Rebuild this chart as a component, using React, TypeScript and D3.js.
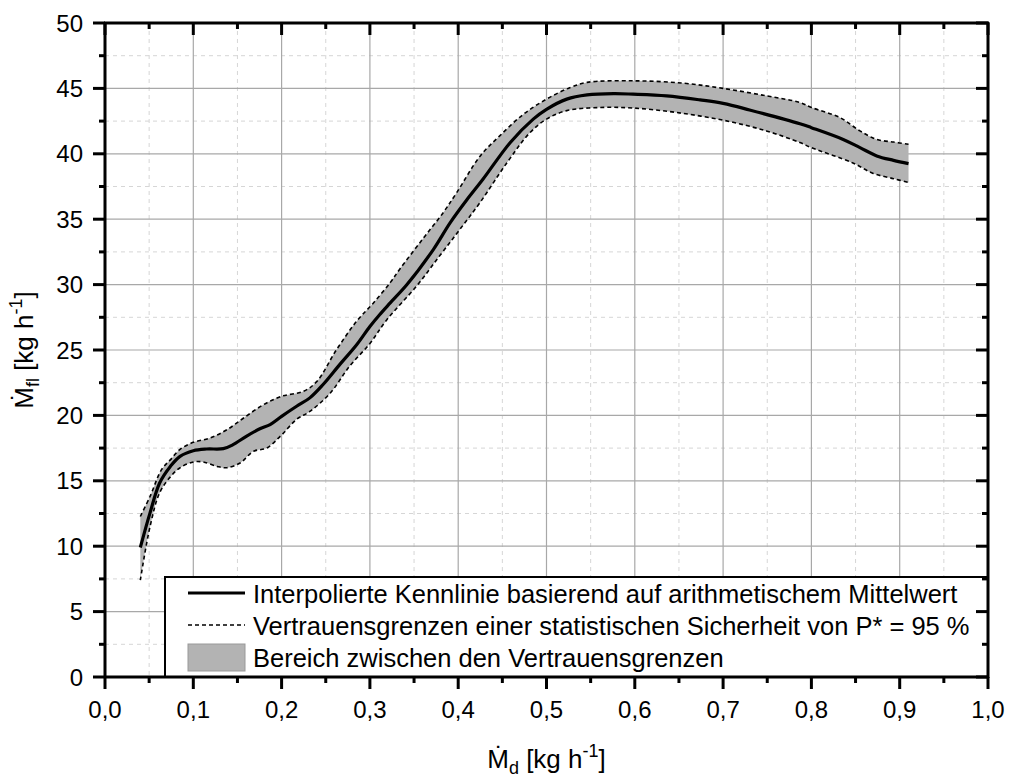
import React from "react";
import * as d3 from "d3";

const meanX = [0.04,0.051,0.062,0.074,0.085,0.1,0.115,0.134,0.145,0.16,0.176,0.187,0.2,0.217,0.232,0.247,0.266,0.285,0.3,0.311,0.323,0.342,0.372,0.391,0.41,0.428,0.459,0.485,0.5,0.523,0.546,0.576,0.598,0.636,0.674,0.7,0.73,0.787,0.8,0.836,0.855,0.874,0.893,0.91];
const meanY = [9.9,12.55,14.85,16.1,16.87,17.3,17.43,17.46,17.76,18.4,19.0,19.3,19.93,20.7,21.34,22.36,23.9,25.4,26.8,27.7,28.6,30.0,32.7,34.74,36.5,38.05,40.87,42.65,43.4,44.18,44.5,44.6,44.56,44.43,44.12,43.85,43.35,42.3,42.0,41.1,40.47,39.84,39.5,39.25];

const upperX = [0.04,0.051,0.064,0.074,0.085,0.1,0.119,0.138,0.157,0.179,0.2,0.225,0.24,0.262,0.285,0.304,0.323,0.334,0.36,0.383,0.398,0.425,0.447,0.474,0.5,0.527,0.546,0.598,0.655,0.7,0.749,0.787,0.8,0.832,0.855,0.874,0.893,0.91];
const upperY = [12.27,13.8,15.85,16.6,17.4,17.94,18.27,18.9,19.8,20.8,21.46,21.85,22.6,25.0,27.2,28.6,30.15,31.2,33.5,35.5,37.0,39.84,41.37,43.03,44.18,45.07,45.46,45.58,45.4,45.0,44.43,43.92,43.54,42.78,41.75,41.1,40.9,40.73];

const lowerX = [0.04,0.051,0.062,0.074,0.085,0.1,0.111,0.127,0.138,0.153,0.168,0.183,0.2,0.217,0.232,0.255,0.277,0.3,0.319,0.353,0.379,0.402,0.425,0.455,0.481,0.5,0.523,0.56,0.598,0.647,0.7,0.749,0.787,0.8,0.847,0.87,0.893,0.91];
const lowerY = [7.4,11.5,14.1,15.3,16.0,16.44,16.44,16.1,16.0,16.36,17.25,17.5,18.5,19.7,20.3,21.7,23.76,25.5,27.3,29.9,32.2,34.23,36.3,39.3,41.6,42.65,43.3,43.54,43.5,43.16,42.57,41.75,40.86,40.47,39.3,38.5,38.1,37.8];

const xTicks = [0,0.1,0.2,0.3,0.4,0.5,0.6,0.7,0.8,0.9,1.0];
const xMinor = [0.05,0.15,0.25,0.35,0.45,0.55,0.65,0.75,0.85,0.95];
const yTicks = [0,5,10,15,20,25,30,35,40,45,50];
const yMinor = [2.5,7.5,12.5,17.5,22.5,27.5,32.5,37.5,42.5,47.5];

const legendLabels = [
  "Interpolierte Kennlinie basierend auf arithmetischem Mittelwert",
  "Vertrauensgrenzen einer statistischen Sicherheit von P* = 95 %",
  "Bereich zwischen den Vertrauensgrenzen",
];

const W = 1009, H = 778;
const L = 105, R = 988, T = 23, B = 677;
const FONT = "'Liberation Sans', Arial, sans-serif";

export default function App() {
  const x = d3.scaleLinear().domain([0, 1]).range([L, R]);
  const y = d3.scaleLinear().domain([0, 50]).range([B, T]);
  const line = d3.line<[number, number]>().x(d => x(d[0])).y(d => y(d[1])).curve(d3.curveCatmullRom.alpha(0.5));
  const mean = meanX.map((v, i) => [v, meanY[i]] as [number, number]);
  const upper = upperX.map((v, i) => [v, upperY[i]] as [number, number]);
  const lower = lowerX.map((v, i) => [v, lowerY[i]] as [number, number]);
  const upPath = line(upper) || "";
  const lowRevPath = (line(lower.slice().reverse()) || "").replace(/^M/, "L");
  const areaPath = upPath + lowRevPath + "Z";
  const fmt = (v: number) => v.toFixed(1).replace(".", ",");

  return (
    <svg width={W} height={H} style={{ position: "absolute", left: 0, top: 0, background: "#fff" }} fontFamily={FONT}>
      <rect x={0} y={0} width={W} height={H} fill="#fff" />
      {/* minor grid */}
      {xMinor.map(v => <line key={"xm" + v} x1={x(v)} x2={x(v)} y1={T} y2={B} stroke="#d6d6d6" strokeWidth={1} strokeDasharray="4,4" />)}
      {yMinor.map(v => <line key={"ym" + v} x1={L} x2={R} y1={y(v)} y2={y(v)} stroke="#d6d6d6" strokeWidth={1} strokeDasharray="4,4" />)}
      {/* major grid */}
      {xTicks.slice(1, -1).map(v => <line key={"xg" + v} x1={x(v)} x2={x(v)} y1={T} y2={B} stroke="#a8a8a8" strokeWidth={1.2} />)}
      {yTicks.slice(1, -1).map(v => <line key={"yg" + v} x1={L} x2={R} y1={y(v)} y2={y(v)} stroke="#a8a8a8" strokeWidth={1.2} />)}

      {/* band */}
      <path d={areaPath} fill="#b3b3b3" stroke="none" />
      <path d={upPath} fill="none" stroke="#000" strokeWidth={1.6} strokeDasharray="4,3" />
      <path d={line(lower) || ""} fill="none" stroke="#000" strokeWidth={1.6} strokeDasharray="4,3" />
      <path d={line(mean) || ""} fill="none" stroke="#000" strokeWidth={3.2} />

      {/* legend */}
      <rect x={165} y={577} width={R - 165} height={B - 577} fill="#fff" stroke="#000" strokeWidth={2} />
      <line x1={188} x2={245} y1={593} y2={593} stroke="#000" strokeWidth={3} />
      <line x1={188} x2={245} y1={625} y2={625} stroke="#000" strokeWidth={1.5} strokeDasharray="4,3" />
      <rect x={188} y={644} width={57} height={27} fill="#b3b3b3" stroke="#999" strokeWidth={1} />
      {legendLabels.map((t, i) => (
        <text key={t} x={253} y={603 + i * 32} fontSize={25.5} fill="#000">{t}</text>
      ))}

      {/* axes frame */}
      <line x1={L} x2={L} y1={T - 1} y2={B + 1} stroke="#000" strokeWidth={3} />
      <line x1={R} x2={R} y1={T - 1} y2={B + 1} stroke="#000" strokeWidth={3} />
      <line x1={L - 1} x2={R + 1} y1={B} y2={B} stroke="#000" strokeWidth={3} />
      <line x1={L - 1} x2={R + 1} y1={T} y2={T} stroke="#000" strokeWidth={3} />

      {/* x ticks */}
      {xTicks.map(v => <line key={"xt" + v} x1={x(v)} x2={x(v)} y1={B} y2={B + 12} stroke="#000" strokeWidth={3} />)}
      {xMinor.map(v => <line key={"xmt" + v} x1={x(v)} x2={x(v)} y1={B} y2={B + 6} stroke="#000" strokeWidth={3} />)}
      {xTicks.map(v => <line key={"xtt" + v} x1={x(v)} x2={x(v)} y1={T} y2={T + 12} stroke="#000" strokeWidth={3} />)}
      {xMinor.map(v => <line key={"xmtt" + v} x1={x(v)} x2={x(v)} y1={T} y2={T + 6} stroke="#000" strokeWidth={3} />)}
      {xTicks.map(v => (
        <text key={"xl" + v} x={x(v)} y={718} fontSize={24} textAnchor="middle" fill="#000">{fmt(v)}</text>
      ))}

      {/* y ticks */}
      {yTicks.map(v => <line key={"yt" + v} x1={L - 12} x2={L} y1={y(v)} y2={y(v)} stroke="#000" strokeWidth={3} />)}
      {yMinor.map(v => <line key={"ymt" + v} x1={L - 6} x2={L} y1={y(v)} y2={y(v)} stroke="#000" strokeWidth={3} />)}
      {yTicks.map(v => <line key={"ytr" + v} x1={R - 12} x2={R} y1={y(v)} y2={y(v)} stroke="#000" strokeWidth={3} />)}
      {yMinor.map(v => <line key={"ymtr" + v} x1={R - 6} x2={R} y1={y(v)} y2={y(v)} stroke="#000" strokeWidth={3} />)}
      {yTicks.map(v => (
        <text key={"yl" + v} x={83} y={y(v) + 8.5} fontSize={24} textAnchor="end" fill="#000">{v}</text>
      ))}

      {/* axis titles */}
      <text x={(L + R) / 2} y={768} fontSize={26} textAnchor="middle" fill="#000">
        Ṁ<tspan fontSize={18} dy={6}>d</tspan><tspan dy={-6}> [kg h</tspan><tspan fontSize={18} dy={-11}>-1</tspan><tspan dy={11}>]</tspan>
      </text>
      <text transform={`translate(33,${(T + B) / 2}) rotate(-90)`} fontSize={26} textAnchor="middle" fill="#000">
        Ṁ<tspan fontSize={18} dy={6}>fl</tspan><tspan dy={-6}> [kg h</tspan><tspan fontSize={18} dy={-11}>-1</tspan><tspan dy={11}>]</tspan>
      </text>
    </svg>
  );
}
